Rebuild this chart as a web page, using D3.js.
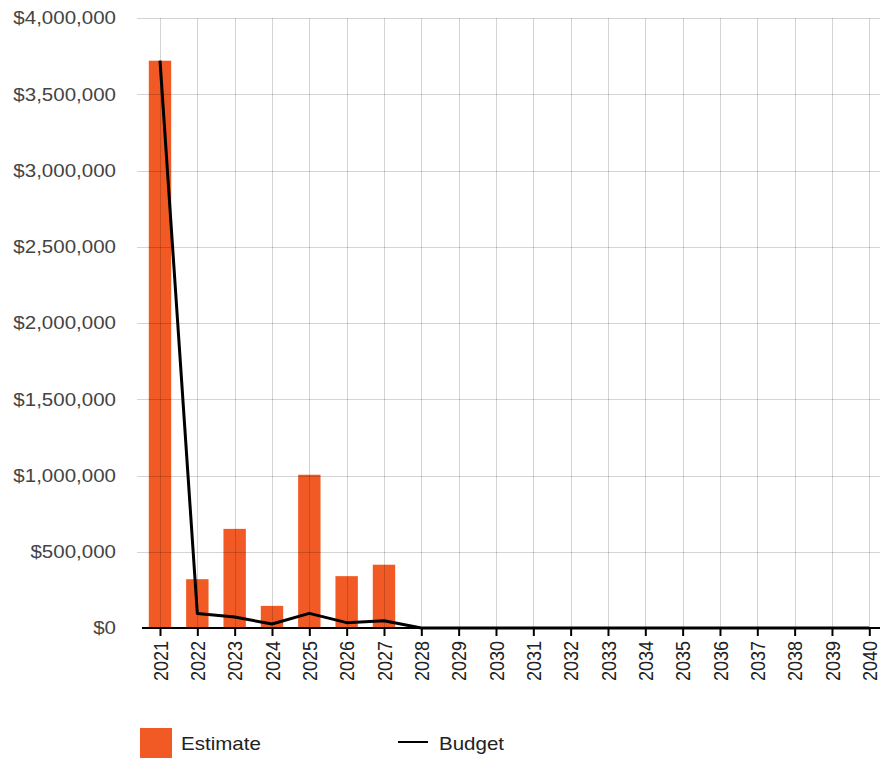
<!DOCTYPE html>
<html>
<head>
<meta charset="utf-8">
<script src="https://cdn.jsdelivr.net/npm/d3@7"></script>
<style>
  html, body { margin: 0; padding: 0; background: #fff; }
  svg { display: block; font-family: Arial, "Liberation Sans", sans-serif; }
</style>
</head>
<body>
<svg id="chart" width="880" height="759"></svg>
<script>
// Yearly values
const years = ["2021","2022","2023","2024","2025","2026","2027","2028","2029","2030",
               "2031","2032","2033","2034","2035","2036","2037","2038","2039","2040"];
const estimate = [3720000, 320000, 650000, 145000, 1005000, 340000, 415000, 0, 0, 0,
                  0, 0, 0, 0, 0, 0, 0, 0, 0, 0];
const budget = [3720000, 95000, 72000, 26000, 96000, 35000, 48000, 0, 0, 0,
                0, 0, 0, 0, 0, 0, 0, 0, 0, 0];
const yTicks = [0, 500000, 1000000, 1500000, 2000000, 2500000, 3000000, 3500000, 4000000];
const seriesNames = ["Estimate", "Budget"];

const svg = d3.select("#chart");
const plotLeft = 140, plotRight = 880, plotTop = 18, plotBottom = 628;
const stretch = 1.14; // text is set slightly wide

const x = d3.scalePoint().domain(years).range([160, 869.3]);
const y = d3.scaleLinear().domain([0, 4000000]).range([plotBottom, plotTop]);
const barW = x.step() * 0.6;
const orange = "#f15a24";

// Bars
svg.append("g").selectAll("rect")
  .data(years.map((yr, i) => ({ yr, v: estimate[i] })).filter(d => d.v > 0))
  .join("rect")
  .attr("x", d => x(d.yr) - barW / 2)
  .attr("y", d => y(d.v))
  .attr("width", barW)
  .attr("height", d => y(0) - y(d.v))
  .attr("fill", orange);

// Gridlines (drawn over the bars, translucent)
const grid = svg.append("g").attr("stroke", "#000").attr("stroke-opacity", 0.17).attr("stroke-width", 1);
grid.selectAll("line.h").data(yTicks.filter(t => t > 0)).join("line")
  .attr("class", "h")
  .attr("x1", plotLeft - 3).attr("x2", plotRight)
  .attr("y1", d => Math.round(y(d)) + 0.5).attr("y2", d => Math.round(y(d)) + 0.5);
grid.selectAll("line.v").data(years).join("line")
  .attr("class", "v")
  .attr("x1", d => Math.round(x(d)) + 0.5).attr("x2", d => Math.round(x(d)) + 0.5)
  .attr("y1", y(4000000)).attr("y2", plotBottom);

// Y axis labels
svg.append("g").selectAll("text").data(yTicks).join("text")
  .attr("transform", d => `translate(116,${y(d)}) scale(${stretch},1)`)
  .attr("dy", "0.35em")
  .attr("text-anchor", "end")
  .attr("font-size", 18)
  .attr("fill", "#444")
  .text(d => d3.format("$,")(d));

// Budget line
const line = d3.line()
  .x((d, i) => x(years[i]))
  .y(d => y(d));
svg.append("path")
  .datum(budget)
  .attr("d", line)
  .attr("fill", "none")
  .attr("stroke", "#000")
  .attr("stroke-width", 3)
  .attr("stroke-linejoin", "round");

// X axis
const xAxis = d3.axisBottom(x).tickSize(8).tickPadding(4);
const gx = svg.append("g").attr("transform", `translate(0,${plotBottom})`).call(xAxis);
gx.select(".domain").remove();
gx.selectAll(".tick line").attr("stroke", "#000").attr("stroke-width", 2);
gx.selectAll(".tick text")
  .attr("font-size", 18)
  .attr("font-family", "Arial, 'Liberation Sans', sans-serif")
  .attr("fill", "#222")
  .attr("transform", `scale(${stretch},1) rotate(-90)`)
  .attr("text-anchor", "end")
  .attr("x", -13)
  .attr("y", 0)
  .attr("dy", "0.35em");
svg.append("line")
  .attr("x1", plotLeft + 2).attr("x2", plotRight)
  .attr("y1", plotBottom).attr("y2", plotBottom)
  .attr("stroke", "#000").attr("stroke-width", 2);

// Legend
const lg = svg.append("g").attr("font-size", 18).attr("fill", "#222");
lg.append("rect").attr("x", 140).attr("y", 728).attr("width", 32).attr("height", 30).attr("fill", orange);
lg.append("text").attr("transform", `translate(181,750) scale(${stretch},1)`).text(seriesNames[0]);
lg.append("line").attr("x1", 398).attr("x2", 428).attr("y1", 742).attr("y2", 742)
  .attr("stroke", "#000").attr("stroke-width", 2);
lg.append("text").attr("transform", `translate(439,750) scale(${stretch},1)`).text(seriesNames[1]);
</script>
</body>
</html>
